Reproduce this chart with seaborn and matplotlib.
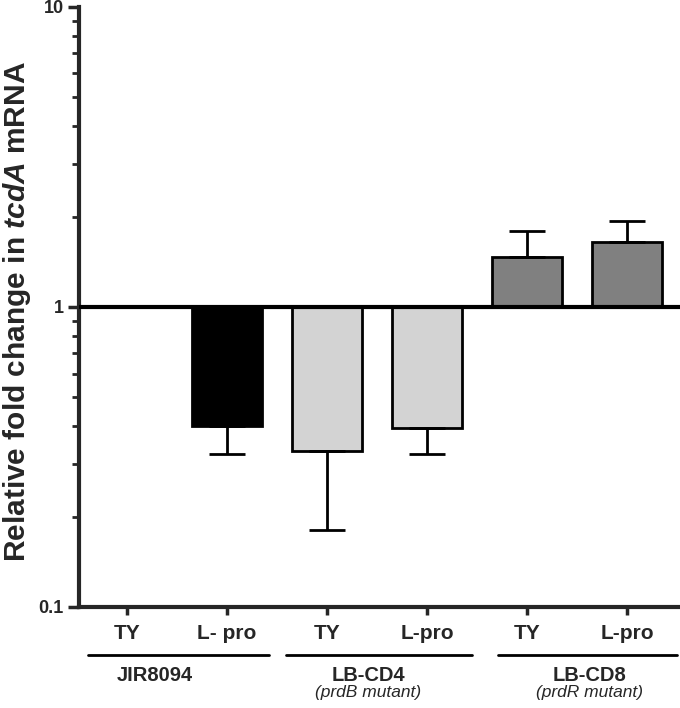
import numpy as np
import pandas as pd
import seaborn as sns
import matplotlib.pyplot as plt

# Data
conditions = ['JIR8094 TY', 'JIR8094 L-pro', 'LB-CD4 TY', 'LB-CD4 L-pro', 'LB-CD8 TY', 'LB-CD8 L-pro']
tick_labels = ['TY', 'L- pro', 'TY', 'L-pro', 'TY', 'L-pro']
fold_change = [1.0, 0.40, 0.33, 0.395, 1.47, 1.65]
error = [0.0, 0.076, 0.149, 0.071, 0.32, 0.29]
bar_colors = ['#ffffff', '#000000', '#d3d3d3', '#d3d3d3', '#808080', '#808080']
groups = ['JIR8094', 'LB-CD4', 'LB-CD8']
group_notes = ['', '(prdB mutant)', '(prdR mutant)']

sns.set_style('ticks')
plt.rcParams['font.family'] = ['Liberation Sans', 'DejaVu Sans']
plt.rcParams['mathtext.fontset'] = 'custom'
plt.rcParams['mathtext.bfit'] = 'Liberation Sans:italic:bold'
plt.rcParams['mathtext.rm'] = 'Liberation Sans:bold'

df = pd.DataFrame({'condition': conditions, 'fold': fold_change})

fig = plt.figure(figsize=(6.8, 7.08), dpi=100)
ax = fig.add_axes([0.116, 0.1427, 0.884, 0.8475])

sns.barplot(data=df, x='condition', y='fold', hue='condition', order=conditions,
            palette=bar_colors, legend=False, width=0.7, edgecolor='black',
            linewidth=2, saturation=1, ax=ax)
ax.set_yscale('log')

# bars grow from 1 (fold change baseline)
for patch, v in zip(ax.patches, fold_change):
    patch.set_y(1)
    patch.set_height(v - 1)

# one-sided error bars, pointing away from baseline
x = np.arange(len(conditions))
lower = [e if v < 1 else 0 for v, e in zip(fold_change, error)]
upper = [e if v >= 1 else 0 for v, e in zip(fold_change, error)]
mask = np.array(error) > 0
ax.errorbar(x[mask], np.array(fold_change)[mask],
            yerr=[np.array(lower)[mask], np.array(upper)[mask]],
            fmt='none', ecolor='black', elinewidth=2, capsize=13, capthick=2, zorder=1)

ax.axhline(1, color='black', lw=3, zorder=5)

ax.set_ylim(0.1, 10)
ax.set_xlim(-0.48, 5.53)
ax.set_yticks([0.1, 1, 10])
ax.set_yticklabels(['0.1', '1', '10'], fontsize=13, fontweight='bold')
ax.set_xticks(x)
ax.set_xticklabels(tick_labels, fontsize=15, fontweight='bold')
ax.tick_params(axis='y', which='major', length=8, width=2.5, pad=3)
ax.tick_params(axis='y', which='minor', length=5, width=2)
ax.tick_params(axis='x', length=6, width=2.5, pad=6)
sns.despine(ax=ax)
for s in ['left', 'bottom']:
    ax.spines[s].set_linewidth(3)

ax.set_xlabel('')
ax.set_ylabel(r'Relative fold change in $\mathbfit{tcdA}$ mRNA',
              fontsize=21.5, fontweight='bold')
ax.yaxis.set_label_coords(-0.077, 0.493)

# group brackets and labels under the axis
trans = ax.get_xaxis_transform()
spans = [(-0.39, 1.42), (1.59, 3.45), (3.71, 5.5)]
label_x = [0.28, 2.41, 4.63]
for (x0, x1), name, note, lx in zip(spans, groups, group_notes, label_x):
    ax.plot([x0, x1], [-0.08, -0.08], color='black', lw=2, transform=trans, clip_on=False)
    ax.text(lx, -0.115, name, transform=trans, ha='center', va='center',
            fontsize=14.5, fontweight='bold')
    if note:
        ax.text(lx, -0.143, note, transform=trans, ha='center', va='center',
                fontsize=12.5, style='italic')

plt.savefig('out.png', dpi=100)
